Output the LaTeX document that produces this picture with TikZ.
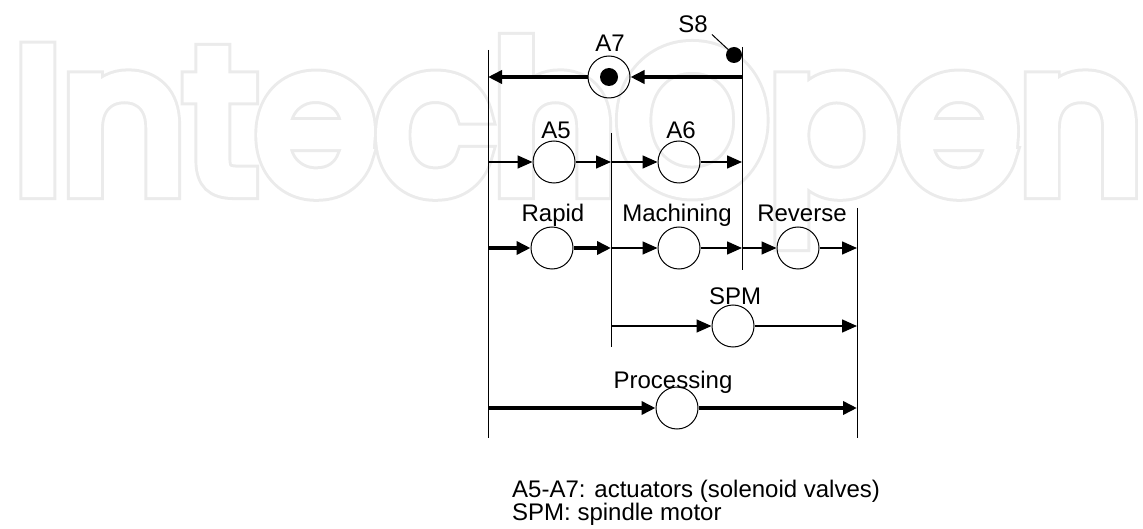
\documentclass[tikz,border=0pt]{standalone}
\usepackage{fontspec}
\setmainfont{Liberation Sans}
\newfontfamily\wmfont{Poppins}[FakeBold=7]
\newfontfamily\wmfontfat{Poppins}[FakeBold=10]
\usetikzlibrary{arrows.meta}
\definecolor{wmgray}{HTML}{EBEBEB}
\begin{document}
\begin{tikzpicture}[x=1pt,y=-1pt,
  lbl/.style={font=\fontsize{24}{28}\selectfont, inner sep=0pt, anchor=base},
  act/.style={circle, draw, line width=1pt, minimum size=42pt, inner sep=0pt},
  thinarr/.style={line width=1.5pt, -{Triangle[length=15pt,width=13pt]}},
  thickarr/.style={line width=3.5pt, -{Triangle[length=14pt,width=13pt]}},
  vline/.style={line width=1pt}]
\useasboundingbox (0,0) rectangle (1143,529);
% watermark (outlined letters)
\node[anchor=base west, inner sep=0pt, text=wmgray] (wm) at (14,190)
  {\resizebox{1128pt}{148pt}{\wmfontfat\fontsize{225}{225}\selectfont IntechOpen}};
\node[anchor=base west, inner sep=0pt, text=white] (wmin) at (14,190)
  {\resizebox{1128pt}{148pt}{\wmfont\fontsize{225}{225}\selectfont IntechOpen}};
% vertical lines
\coordinate (vLt) at (488,50);  \coordinate (vLb) at (488,438);
\coordinate (vMt) at (611,133); \coordinate (vMb) at (611,347);
\coordinate (vRt) at (742,47);  \coordinate (vRb) at (742,270);
\coordinate (vXt) at (857,208); \coordinate (vXb) at (857,438);
\draw[vline] (vLt) -- (vLb);
\draw[vline] (vMt) -- (vMb);
\draw[vline] (vRt) -- (vRb);
\draw[vline] (vXt) -- (vXb);
% places
\node[act] (A7) at (609,77) {};
\node[circle, fill, minimum size=18pt, inner sep=0pt] (A7dot) at (A7) {};
\node[act] (A5) at (554,162) {};
\node[act] (A6) at (679,162) {};
\node[act] (Rap) at (552,248) {};
\node[act] (Mac) at (679,248) {};
\node[act] (Rev) at (798,248) {};
\node[act] (SPM) at (733,326) {};
\node[act] (Pro) at (677,408) {};
% S8
\node[circle, fill, minimum size=16pt, inner sep=0pt] (S8) at (734,55) {};
\node[lbl] (S8l) at (693,33) {S8};
\draw[line width=1pt] ([shift={(4pt,-1pt)}]S8l.south east) -- (S8);
% labels
\node[lbl] (lA7) at (610,52) {A7};
\node[lbl] (lA5) at (556,139) {A5};
\node[lbl] (lA6) at (681,139) {A6};
\node[lbl] (lRap) at (553,222) {Rapid};
\node[lbl] (lMac) at (677,222) {Machining};
\node[lbl] (lRev) at (802,222) {Reverse};
\node[lbl] (lSPM) at (735,305) {SPM};
\node[lbl] (lPro) at (673,388) {Processing};
% connectors
\draw[thickarr] (A7 -| vRt) -- (A7);
\draw[thickarr] (A7) -- (A7 -| vLt);
\draw[thinarr] (A5 -| vLt) -- (A5);
\draw[thinarr] (A5) -- (A5 -| vMt);
\draw[thinarr] (A6 -| vMt) -- (A6);
\draw[thinarr] (A6) -- (A6 -| vRt);
\draw[thickarr] (Rap -| vLt) -- (Rap);
\draw[thickarr] (Rap) -- (Rap -| vMt);
\draw[thinarr] (Mac -| vMt) -- (Mac);
\draw[thinarr] (Mac) -- (Mac -| vRt);
\draw[thinarr] (Rev -| vRt) -- (Rev);
\draw[thinarr] (Rev) -- (Rev -| vXt);
\draw[thinarr] (SPM -| vMt) -- (SPM);
\draw[thinarr] (SPM) -- (SPM -| vXt);
\draw[thickarr] (Pro -| vLt) -- (Pro);
\draw[thickarr] (Pro) -- (Pro -| vXt);
% legend
\node[lbl, anchor=base west] (leg1) at (512,497) {A5-A7: actuators (solenoid valves)};
\node[lbl, anchor=base west] (leg2) at (512,520) {SPM: spindle motor};
\end{tikzpicture}
\end{document}
